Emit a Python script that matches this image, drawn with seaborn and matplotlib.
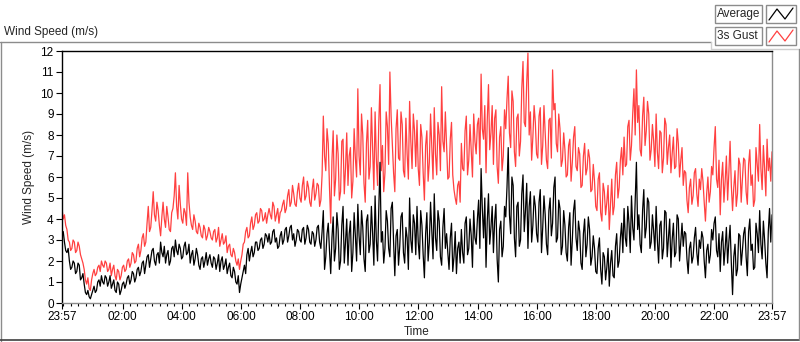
import numpy as np
import pandas as pd
import matplotlib
matplotlib.use("Agg")
import matplotlib.pyplot as plt
from matplotlib.lines import Line2D
from matplotlib.patches import Rectangle
import seaborn as sns

# Samples on the 5-minute marks from 23:57 to 23:57 next day (one row per hour)
average = [
    3.2, 2.9, 2.4, 2.0, 1.7, 1.9, 1.5, 1.8, 1.2, 0.9, 0.4, 0.3,
    0.4, 0.8, 0.6, 1.1, 1.3, 0.9, 1.2, 1.0, 0.7, 1.1, 0.5, 0.9,
    0.6, 1.0, 0.9, 1.3, 1.1, 1.4, 1.2, 1.7, 1.5, 2.0, 1.8, 2.3,
    2.1, 2.6, 1.8, 2.4, 2.9, 2.2, 1.9, 2.5, 2.0, 2.7, 3.0, 2.3,
    2.6, 2.2, 2.9, 2.4, 1.9, 2.5, 2.1, 2.3, 1.6, 2.2, 2.0, 1.8,
    2.3, 1.7, 2.1, 1.9, 1.5, 2.2, 1.8, 1.4, 1.9, 1.2, 1.5, 0.9,
    0.5, 1.2, 1.8, 2.3, 2.0, 2.7, 2.4, 2.9, 2.6, 3.1, 2.8, 3.2,
    3.3, 2.9, 3.5, 3.1, 2.7, 3.4, 3.0, 3.6, 3.2, 3.7, 3.3, 3.0,
    3.4, 2.9, 3.6, 3.1, 3.5, 2.8, 3.3, 3.0, 3.7, 2.6, 4.4, 2.2,
    3.8, 1.4, 4.1, 2.6, 3.5, 2.0, 4.6, 2.9, 1.8, 3.9, 2.4, 3.2,
    4.7, 2.3, 3.6, 1.5, 4.2, 2.8, 3.3, 5.1, 2.0, 6.7, 3.4, 2.6,
    3.9, 2.2, 4.8, 1.3, 3.5, 2.7, 4.3, 1.9, 3.1, 5.0, 2.4, 3.8,
    4.6, 2.1, 3.7, 1.2, 4.3, 2.9, 3.4, 5.2, 2.5, 3.9, 1.8, 4.5,
    3.3, 1.6, 3.8, 2.2, 1.4, 2.9, 3.5, 1.9, 4.1, 2.6, 3.2, 4.4,
    2.8, 4.9, 6.4, 3.1, 1.7, 5.2, 3.6, 2.4, 4.7, 1.0, 3.9, 2.7,
    4.1, 7.4, 3.3, 5.6, 2.2, 4.8, 3.0, 6.1, 4.4, 2.6, 5.3, 3.7,
    4.6, 2.9, 5.4, 3.6, 4.2, 2.3, 5.0, 3.8, 6.0, 3.1, 4.5, 2.7,
    3.7, 2.0, 4.3, 3.0, 4.9, 2.5, 3.4, 1.6, 4.0, 2.8, 3.5, 2.2,
    2.6, 1.4, 3.1, 0.9, 2.2, 1.7, 0.8, 2.5, 1.2, 3.3, 2.0, 3.8,
    4.5, 2.7, 3.8, 5.1, 3.0, 6.7, 4.2, 2.4, 5.4, 3.6, 4.8, 2.9,
    3.4, 4.6, 1.9, 3.9, 2.6, 4.3, 3.1, 1.7, 3.8, 2.4, 4.0, 2.9,
    2.7, 3.3, 1.4, 2.9, 2.2, 3.6, 1.8, 2.6, 3.1, 1.2, 2.8, 2.3,
    3.0, 4.1, 2.2, 1.5, 3.4, 2.6, 1.9, 3.7, 0.4, 2.8, 1.6, 3.2,
    2.5, 3.6, 1.3, 4.0, 2.8, 1.7, 3.3, 4.4, 2.1, 3.0, 1.2, 4.5, 4.2,
]
# Samples 2.5 minutes after each of the marks above
average_mid = [
    3.4, 2.5, 2.6, 1.6, 2.0, 1.4, 1.9, 1.1, 1.4, 0.5, 0.6, 0.2,
    0.6, 0.5, 1.0, 0.8, 1.0, 1.3, 0.8, 1.3, 0.9, 0.6, 1.0, 0.4,
    0.9, 0.7, 1.2, 0.9, 1.5, 1.0, 1.6, 1.3, 1.9, 1.4, 2.2, 1.7,
    2.5, 2.0, 2.3, 1.9, 2.4, 2.7, 2.3, 1.8, 2.6, 2.2, 2.5, 2.8,
    2.1, 2.7, 2.3, 2.8, 2.3, 1.8, 2.6, 1.8, 2.1, 1.7, 2.4, 2.1,
    1.9, 2.2, 1.6, 2.3, 2.0, 1.6, 2.1, 1.7, 1.3, 1.7, 1.0, 1.3,
    0.9, 1.5, 1.4, 2.6, 2.4, 2.2, 2.9, 2.5, 3.0, 2.6, 3.3, 2.9,
    2.8, 3.4, 2.9, 2.6, 3.2, 2.8, 3.5, 2.9, 3.6, 3.0, 2.7, 3.5,
    3.0, 3.5, 2.8, 3.7, 2.9, 3.4, 2.7, 3.6, 2.9, 3.4, 1.6, 3.3,
    2.5, 3.1, 2.0, 4.3, 1.6, 3.7, 1.9, 4.0, 3.3, 1.5, 4.3, 2.0,
    3.2, 4.4, 2.1, 3.9, 2.4, 4.6, 1.8, 3.0, 4.5, 2.9, 1.9, 4.4,
    2.6, 4.5, 2.9, 3.2, 1.8, 4.1, 2.4, 3.6, 1.6, 3.0, 4.2, 2.3,
    2.9, 4.4, 2.3, 3.3, 2.0, 4.8, 2.1, 3.1, 4.4, 2.2, 3.6, 2.6,
    2.4, 3.1, 1.5, 3.4, 2.6, 1.9, 2.4, 3.8, 2.3, 4.0, 1.7, 3.1,
    4.0, 2.6, 4.5, 5.0, 3.9, 2.8, 4.6, 3.9, 2.1, 3.5, 2.2, 4.6,
    5.5, 4.2, 6.0, 3.1, 4.6, 2.7, 5.2, 3.4, 5.7, 4.6, 2.9, 5.1,
    3.3, 4.8, 2.4, 5.1, 2.8, 4.4, 3.2, 5.5, 2.9, 4.9, 2.3, 4.4,
    2.4, 3.6, 1.8, 4.4, 3.1, 3.9, 1.9, 3.3, 2.2, 4.1, 1.8, 3.2,
    1.5, 2.6, 1.6, 2.4, 1.1, 2.6, 1.9, 1.3, 2.7, 1.7, 3.1, 2.4,
    3.1, 4.6, 2.4, 3.6, 4.8, 3.5, 2.8, 4.4, 3.1, 5.0, 2.6, 4.2,
    2.5, 3.0, 3.7, 2.1, 4.4, 2.2, 4.0, 3.0, 2.2, 4.2, 2.0, 3.8,
    3.4, 2.1, 2.6, 1.9, 3.1, 2.4, 3.0, 3.4, 2.0, 2.5, 1.9, 3.5,
    3.8, 2.5, 3.3, 2.9, 1.8, 3.6, 2.9, 1.9, 2.2, 1.3, 3.3, 1.8,
    3.3, 2.2, 3.4, 2.5, 1.6, 3.8, 2.4, 2.8, 3.9, 1.9, 3.4, 2.9,
]
gust = [
    4.5, 4.2, 3.5, 2.9, 2.6, 2.9, 2.5, 2.7, 2.1, 1.6, 0.9, 0.7,
    1.1, 1.6, 1.4, 1.8, 2.0, 1.7, 1.9, 1.6, 1.3, 1.8, 1.1, 1.5,
    1.3, 1.8, 1.6, 2.1, 1.9, 2.3, 2.0, 2.8, 2.5, 3.3, 2.9, 4.6,
    3.6, 5.3, 3.9, 4.4, 3.2, 4.8, 3.6, 4.1, 3.4, 4.5, 6.2, 4.0,
    4.7, 3.8, 4.3, 6.2, 4.1, 3.5, 3.9, 3.3, 3.6, 3.1, 3.5, 3.2,
    3.4, 3.0, 3.5, 3.1, 2.7, 3.3, 2.9, 2.4, 2.8, 2.2, 2.4, 1.8,
    1.6, 2.3, 2.9, 3.6, 3.2, 4.1, 3.7, 4.3, 3.9, 4.4, 4.0, 3.8,
    4.5, 4.0, 4.6, 4.2, 3.8, 4.4, 4.9, 4.5, 5.4, 4.8, 5.2, 4.6,
    5.7, 4.8, 6.0, 5.1, 5.5, 4.6, 5.9, 5.2, 5.6, 4.9, 8.9, 6.3,
    7.6, 3.8, 8.2, 5.9, 7.1, 5.3, 7.8, 6.4, 5.6, 7.4, 5.8, 6.9,
    10.2, 6.1, 8.0, 4.8, 8.7, 6.5, 7.3, 9.1, 5.6, 10.4, 7.5, 6.2,
    8.4, 11.0, 7.6, 5.3, 9.2, 6.8, 8.5, 6.0, 7.1, 9.6, 6.4, 8.2,
    8.7, 5.6, 7.9, 4.9, 8.2, 6.7, 7.4, 9.3, 6.1, 8.0, 10.3, 7.2,
    7.5, 6.0, 8.6, 5.4, 4.7, 5.8, 7.6, 6.3, 8.9, 6.8, 7.2, 9.0,
    7.1, 8.8, 10.9, 7.8, 6.2, 10.4, 8.1, 6.6, 9.2, 5.7, 8.4, 7.0,
    8.3, 10.8, 7.4, 9.6, 6.5, 9.0, 7.7, 11.5, 8.4, 11.9, 9.1, 7.9,
    8.6, 6.9, 9.3, 7.5, 8.1, 6.4, 8.8, 11.1, 9.5, 7.2, 8.3, 6.8,
    7.3, 6.1, 7.8, 6.7, 8.4, 6.3, 7.1, 5.6, 7.6, 6.4, 6.9, 5.4,
    5.8, 4.4, 6.2, 3.9, 5.3, 4.8, 3.5, 5.9, 4.6, 6.7, 5.5, 7.4,
    7.9, 6.6, 8.7, 7.5, 10.2, 11.1, 9.4, 7.0, 9.8, 8.2, 9.0, 7.3,
    7.7, 9.0, 6.4, 8.1, 6.9, 8.5, 7.4, 6.2, 7.9, 6.5, 7.6, 6.8,
    5.6, 6.2, 4.3, 5.9, 5.1, 6.4, 4.6, 5.4, 5.8, 3.9, 6.0, 5.3,
    6.1, 8.4, 5.5, 4.2, 6.7, 5.8, 4.9, 7.7, 4.4, 6.3, 5.2, 6.6,
    5.9, 6.8, 4.7, 7.3, 6.1, 4.9, 6.6, 8.5, 5.4, 6.4, 7.8, 6.9, 7.2,
]
gust_mid = [
    4.0, 3.7, 3.0, 2.5, 3.0, 2.4, 2.9, 2.3, 1.9, 1.1, 1.2, 0.6,
    1.4, 1.3, 1.7, 1.5, 1.8, 2.0, 1.5, 1.9, 1.6, 1.3, 1.6, 1.1,
    1.7, 1.5, 2.0, 1.7, 2.4, 1.9, 2.6, 2.2, 3.1, 2.7, 3.8, 3.4,
    4.4, 4.2, 4.8, 3.7, 4.1, 4.0, 4.6, 3.5, 4.3, 5.1, 4.6, 5.6,
    4.0, 4.5, 3.7, 4.8, 3.7, 4.2, 3.4, 3.8, 3.2, 3.7, 3.0, 3.6,
    3.1, 3.4, 2.9, 3.6, 3.0, 2.8, 3.2, 2.7, 2.3, 2.6, 2.0, 2.1,
    2.0, 2.8, 3.4, 3.1, 3.8, 3.5, 4.2, 3.8, 4.5, 3.9, 4.3, 4.2,
    4.2, 4.8, 3.9, 4.5, 4.3, 4.7, 4.3, 5.1, 4.6, 5.6, 4.7, 5.3,
    5.0, 5.6, 4.9, 5.8, 4.8, 5.4, 4.9, 5.7, 4.6, 6.1, 7.0, 8.3,
    5.5, 6.8, 5.1, 8.0, 4.9, 7.7, 5.2, 8.1, 7.0, 5.0, 8.3, 6.0,
    7.0, 9.0, 5.7, 7.6, 5.9, 9.3, 5.4, 6.9, 8.6, 6.3, 5.3, 9.1,
    6.6, 8.9, 6.2, 8.3, 6.9, 9.1, 6.3, 8.8, 5.9, 7.7, 9.0, 6.5,
    6.4, 8.5, 6.2, 7.5, 5.8, 9.0, 5.9, 7.1, 8.6, 6.3, 7.7, 9.1,
    5.9, 7.8, 6.1, 5.0, 5.6, 4.8, 6.4, 8.2, 6.1, 8.5, 6.0, 7.7,
    8.5, 6.6, 8.3, 9.4, 8.7, 7.3, 9.4, 8.8, 6.5, 7.9, 6.3, 9.2,
    9.7, 8.1, 10.1, 7.2, 8.8, 7.0, 10.2, 8.6, 10.5, 8.0, 6.8, 9.4,
    7.1, 8.9, 6.6, 9.4, 6.8, 8.7, 6.9, 9.2, 7.6, 9.0, 6.5, 8.1,
    6.0, 7.5, 5.8, 7.9, 6.5, 7.4, 5.5, 7.0, 6.1, 7.3, 5.3, 6.6,
    4.6, 5.9, 4.3, 5.7, 4.2, 5.6, 4.7, 4.2, 6.1, 5.0, 6.8, 6.1,
    6.5, 8.4, 6.8, 9.0, 8.0, 8.6, 7.3, 8.9, 7.5, 9.6, 6.8, 8.5,
    6.5, 7.2, 8.2, 6.2, 8.8, 6.6, 8.0, 7.1, 6.4, 8.3, 6.0, 7.4,
    6.3, 4.9, 5.5, 4.7, 6.2, 5.2, 5.9, 6.4, 4.8, 5.2, 4.8, 6.5,
    7.4, 5.9, 6.8, 5.9, 4.8, 7.0, 6.2, 5.6, 5.5, 4.6, 6.9, 4.8,
    6.9, 5.3, 6.6, 5.6, 4.6, 7.4, 5.8, 6.4, 7.5, 5.1, 6.3, 5.8,
]
tick_labels = ["23:57", "02:00", "04:00", "06:00", "08:00", "10:00", "12:00",
               "14:00", "16:00", "18:00", "20:00", "22:00", "23:57"]


def interleave(marks, mids):
    out = []
    for a, b in zip(marks[:-1], mids):
        out += [a, b]
    return out + [marks[-1]]


avg_all = interleave(average, average_mid)
gust_all = interleave(gust, gust_mid)
# hours since 23:57, 2.5-minute spacing
hours = np.arange(len(avg_all)) * 2.5 / 60
df = pd.DataFrame({"hours": hours, "Average": avg_all, "3s Gust": gust_all})

W, H = 800, 342
RED = "#ff4040"
GRAY = "#8c8c8c"


def fx(x):
    return x / W


def fy(y):
    return 1 - y / H


sns.set_style("white")
plt.rcParams["font.family"] = ["Liberation Sans", "DejaVu Sans"]

fig = plt.figure(figsize=(8, 3.42), dpi=100)
ax = fig.add_axes([fx(62), fy(303), fx(772) - fx(62), fy(51) - fy(303)])

sns.lineplot(data=df, x="hours", y="3s Gust", ax=ax, color=RED, linewidth=0.9)
sns.lineplot(data=df, x="hours", y="Average", ax=ax, color="black", linewidth=0.9)

ax.set_xlim(0, 24)
ax.set_ylim(0, 12)
ax.set_yticks(range(0, 13))
ax.set_xticks([0] + [2.05 + 2 * i for i in range(11)] + [24])
ax.set_xticklabels(tick_labels)
ax.set_xticks([0.05 + 0.25 * i for i in range(96)], minor=True)
ax.tick_params(axis="both", which="major", direction="out", length=4, width=0.8,
               labelsize=8.5, pad=2, colors="black")
ax.tick_params(axis="x", which="minor", direction="out", length=2.5, width=0.8,
               bottom=True, colors="black")
ax.tick_params(left=True, bottom=True)
ax.set_xlabel("Time", fontsize=8.5, labelpad=2)
ax.set_ylabel("Wind Speed (m/s)", fontsize=8.5, labelpad=4)
for side in ("left", "top"):
    ax.spines[side].set_color("black")
    ax.spines[side].set_linewidth(1.0)
for side in ("right", "bottom"):
    ax.spines[side].set_color(GRAY)
    ax.spines[side].set_linewidth(1.0)

# panel decorations
fig.text(fx(4), fy(32), "Wind Speed (m/s)", fontsize=8.5, ha="left", va="center")
fig.add_artist(Line2D([0, fx(711)], [fy(42), fy(42)], color=GRAY, lw=1))
fig.add_artist(Line2D([fx(0.5), fx(0.5)], [fy(42), fy(341)], color=GRAY, lw=1))
fig.add_artist(Line2D([0, 1], [fy(340), fy(340)], color="#404040", lw=1.2))
fig.add_artist(Line2D([fx(711), fx(711)], [fy(42), fy(49)], color="#cfcfcf", lw=1))
fig.add_artist(Line2D([fx(711), 1], [fy(49), fy(49)], color="#cfcfcf", lw=1))
fig.add_artist(Line2D([fx(799), fx(799)], [fy(49), fy(340)], color=GRAY, lw=1))

# legend boxes
for row, (name, col) in enumerate([("Average", "black"), ("3s Gust", RED)]):
    top = 5 + row * 22
    fig.add_artist(Rectangle((fx(715), fy(top + 18)), fx(47), fy(0) - fy(18),
                             transform=fig.transFigure, fill=False,
                             edgecolor=GRAY, lw=1))
    fig.text(fx(717), fy(top + 9), name, fontsize=8.5, ha="left", va="center")
    fig.add_artist(Rectangle((fx(766), fy(top + 18)), fx(30), fy(0) - fy(18),
                             transform=fig.transFigure, fill=False,
                             edgecolor=GRAY, lw=1))
    zx = [769, 777, 785, 793]
    zy = [top + 15, top + 4, top + 14, top + 3]
    fig.add_artist(Line2D([fx(v) for v in zx], [fy(v) for v in zy],
                          color=col, lw=0.9))

fig.savefig("out.png", dpi=100, facecolor="white")
